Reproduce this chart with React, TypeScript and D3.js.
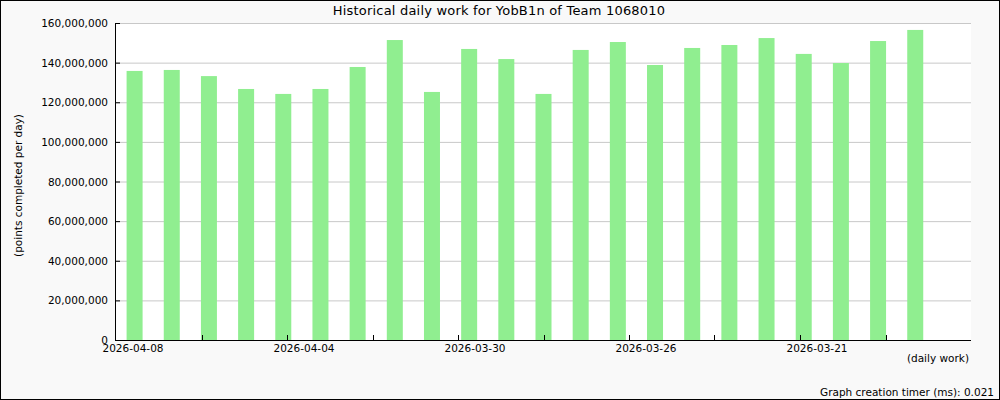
import React from "react";
import * as d3 from "d3";

const title = "Historical daily work for YobB1n of Team 1068010";
const yAxisLabel = "(points completed per day)";
const xAxisLabel = "(daily work)";
const footer = "Graph creation timer (ms): 0.021";

const dates = [
  "2026-04-08", "2026-04-07", "2026-04-06", "2026-04-05", "2026-04-04",
  "2026-04-03", "2026-04-02", "2026-04-01", "2026-03-31", "2026-03-30",
  "2026-03-29", "2026-03-28", "2026-03-27", "2026-03-26", "2026-03-25",
  "2026-03-24", "2026-03-23", "2026-03-22", "2026-03-21", "2026-03-20",
  "2026-03-19", "2026-03-18",
];

const points = [
  135800000, 136300000, 133200000, 126700000, 124200000, 126700000,
  137800000, 151400000, 125200000, 146900000, 141800000, 124200000,
  146400000, 150400000, 138800000, 147400000, 148900000, 152400000,
  144400000, 139800000, 150900000, 156500000,
];

const yTicks = [0, 20000000, 40000000, 60000000, 80000000, 100000000, 120000000, 140000000, 160000000];

// label every other x tick; tick step is 2.3 day-slots
const xTickLabels = ["2026-04-08", "2026-04-04", "2026-03-30", "2026-03-26", "2026-03-21"];
const xTickCount = 10;

export default function App() {
  const W = 1000, H = 400;
  const left = 116, right = 971, top = 23, bottom = 340;
  const slots = dates.length + 1;
  const x = d3.scaleLinear().domain([0, slots]).range([left, right]);
  const y = d3.scaleLinear().domain([0, 160000000]).range([bottom, top]);
  const fmt = d3.format(",");
  const barW = 16;
  const font = "DejaVu Sans, sans-serif";
  const step = slots / xTickCount;
  const tickIdx = d3.range(1, xTickCount);

  return (
    <svg width={W} height={H} style={{ position: "absolute", left: 0, top: 0 }} fontFamily={font}>
      <rect x={0.5} y={0.5} width={W - 1} height={H - 1} fill="#f9f9f9" stroke="#000" />
      <rect x={left} y={top} width={right - left} height={bottom - top} fill="#fff" />
      {yTicks.slice(1).map((t) => (
        <line key={"g" + t} x1={left} x2={right} y1={y(t) + 0.5} y2={y(t) + 0.5} stroke="#c8c8c8" />
      ))}
      {dates.map((d, i) => (
        <rect key={d} x={x(i + 0.5) - barW / 2} y={y(points[i])} width={barW} height={bottom - y(points[i])} fill="#90ee90" />
      ))}
      <line x1={left - 0.5} x2={left - 0.5} y1={top} y2={bottom + 1} stroke="#000" />
      <line x1={left - 1} x2={right} y1={bottom + 0.5} y2={bottom + 0.5} stroke="#000" />
      {yTicks.map((t) => (
        <g key={"t" + t}>
          <line x1={left - 1} x2={left + 4} y1={y(t) + 0.5} y2={y(t) + 0.5} stroke="#000" />
          <text x={108} y={y(t) + 4} textAnchor="end" fontSize={10.5} fill="#000">{fmt(t)}</text>
        </g>
      ))}
      {tickIdx.map((k) => (
        <line key={"xt" + k} x1={Math.round(x(k * step)) + 0.5} x2={Math.round(x(k * step)) + 0.5} y1={bottom} y2={bottom - 5} stroke="#000" />
      ))}
      {xTickLabels.map((l, j) => (
        <text key={l} x={x(j * 2 * step) + 17} y={352} textAnchor="middle" fontSize={10.5} fill="#000">{l}</text>
      ))}
      <text x={499} y={15} textAnchor="middle" fontSize={13} letterSpacing={0.2} fill="#000">{title}</text>
      <text transform={`translate(22,${(top + bottom) / 2 + 4}) rotate(-90)`} textAnchor="middle" fontSize={10.5} fill="#000">{yAxisLabel}</text>
      <text x={969} y={362} textAnchor="end" fontSize={10.5} fill="#000">{xAxisLabel}</text>
      <text x={994} y={396} textAnchor="end" fontSize={10.5} fill="#000">{footer}</text>
    </svg>
  );
}
